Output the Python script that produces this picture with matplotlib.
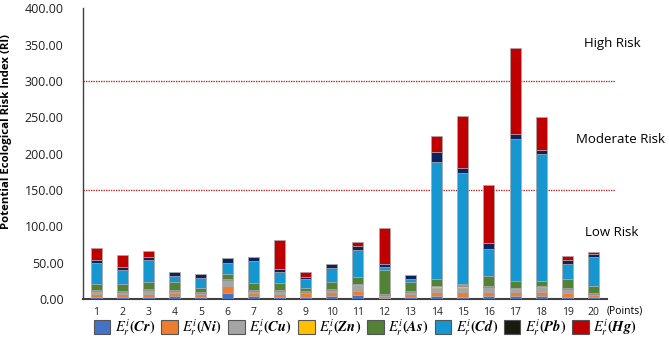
import matplotlib
matplotlib.use("Agg")
import matplotlib.pyplot as plt
from matplotlib.patches import Patch
import numpy as np

plt.rcParams['font.family'] = ['Open Sans', 'DejaVu Sans']
plt.rcParams['mathtext.fontset'] = 'stix'

points = [str(i) for i in range(1, 21)]
cr   = [3, 3, 3, 4, 2.3, 7.8, 3.5, 3, 2.3, 4, 5, 1, 3, 4, 3, 4, 4, 4, 3.2, 2.5]
ni   = [4, 4, 4, 4.7, 4.6, 10, 4.5, 4.5, 5.5, 5.5, 6.5, 3, 4.5, 5, 6.5, 6, 6, 6, 5.5, 3]
cu   = [3, 2, 5, 2.3, 1.8, 8.7, 2.5, 3.5, 1.5, 3.2, 8, 1, 2, 6, 6, 6, 4, 6, 4.6, 2]
zn   = [0.5, 0.5, 1, 0, 0, 0, 0.5, 0.5, 0.3, 0.3, 0.5, 0.3, 0.3, 3, 3, 0.5, 1, 1.5, 0, 0]
pb   = [1.5, 1, 1, 1.4, 1.3, 1.4, 1.4, 1.4, 1.4, 1.4, 1, 1.3, 1.5, 0.5, 0.8, 1, 0.6, 0.4, 1.4, 1.2]
as_  = [9, 10, 9, 10.6, 5.6, 6, 10, 8.7, 4.2, 9, 9.2, 34, 12.3, 8.5, 1, 14, 9.6, 6.9, 12.3, 8.7]
cd   = [28, 20, 30, 9, 13, 16, 30, 15.4, 12.8, 19, 37.6, 3.7, 4.6, 162, 153, 36.8, 195, 174.7, 21.6, 40.4]
navy = [4, 3, 5, 5.6, 5.5, 6, 5, 3.8, 2.8, 5.5, 4.6, 3.2, 4.6, 13.3, 7.4, 8.2, 6.6, 5.5, 4.6, 3.7]
hg   = [17, 17, 8, 0, 0, 0, 0.5, 41, 6.8, 0, 5.5, 50, 0.5, 22, 70.6, 81, 118, 45, 5.8, 3.5]

colors = {'Cr': '#4472C4', 'Ni': '#ED7D31', 'Cu': '#A5A5A5', 'Zn': '#FFC000',
          'Pb': '#1C1A10', 'As': '#538135', 'Cd': '#1797D0', 'navy': '#0D2260',
          'Hg': '#C00000'}

stack = [(cr, 'Cr'), (ni, 'Ni'), (cu, 'Cu'), (zn, 'Zn'), (pb, 'Pb'),
         (as_, 'As'), (cd, 'Cd'), (navy, 'navy'), (hg, 'Hg')]
legend_order = ['Cr', 'Ni', 'Cu', 'Zn', 'As', 'Cd', 'Pb', 'Hg']

fig = plt.figure(figsize=(6.69, 3.42), dpi=100)
ax = fig.add_axes([0.124, 0.1257, 0.783, 0.85])

x = np.arange(1, 21)
bottom = np.zeros(20)
for vals, key in stack:
    v = np.array(vals, dtype=float)
    ax.bar(x, v, width=0.42, bottom=bottom, color=colors[key],
           edgecolor='#a8a8a8', linewidth=0.5, zorder=3)
    bottom += v

ax.set_xlim(0.5, 20.5)
ax.set_ylim(0, 400)
ax.set_yticks(np.arange(0, 401, 50))
ax.set_yticklabels([f"{v:.2f}" for v in np.arange(0, 401, 50)], fontsize=9, color='#222222')
ax.set_xticks(x)
ax.set_xticklabels(points, fontsize=7.5, color='#222222')
ax.tick_params(axis='both', length=0)
ax.tick_params(axis='x', pad=6)
ax.tick_params(axis='y', pad=14)
for s in ['top', 'right']:
    ax.spines[s].set_visible(False)
ax.spines['left'].set_color('#404040')
ax.spines['left'].set_linewidth(1.0)
ax.spines['bottom'].set_color('#404040')
ax.spines['bottom'].set_linewidth(1.5)

ax.set_ylabel('Potential Ecological Risk Index (RI)', fontsize=8.2, fontweight='bold')
ax.yaxis.set_label_coords(-0.135, 0.575)

# risk thresholds
for yv in (150, 300):
    ax.plot([0.0, 1.015], [yv, yv], transform=ax.get_yaxis_transform(),
            color='#B03030', linestyle=(0, (1, 0.8)), linewidth=1.0,
            clip_on=False, zorder=2)

ax.text(0.956, 352, 'High Risk', transform=ax.get_yaxis_transform(), fontsize=9.5,
        ha='left', va='center', clip_on=False)
ax.text(0.941, 220, 'Moderate Risk', transform=ax.get_yaxis_transform(), fontsize=9.5,
        ha='left', va='center', clip_on=False)
ax.text(0.958, 91, 'Low Risk', transform=ax.get_yaxis_transform(), fontsize=9.5,
        ha='left', va='center', clip_on=False)
ax.text(1.0, -17, '(Points)', transform=ax.get_yaxis_transform(), fontsize=7.5,
        ha='left', va='center', clip_on=False)

handles = [Patch(facecolor=colors[k], edgecolor='#555555', linewidth=0.8,
                 label=r'$\boldsymbol{E_r^i(' + k + r')}$') for k in legend_order]
fig.legend(handles=handles, loc='center left', bbox_to_anchor=(0.14, 0.042),
           ncol=8, frameon=False, fontsize=10.5, handlelength=1.15, handleheight=1.15,
           handletextpad=0.3, columnspacing=0.4, borderaxespad=0, borderpad=0)

fig.savefig('out.png', dpi=100)
